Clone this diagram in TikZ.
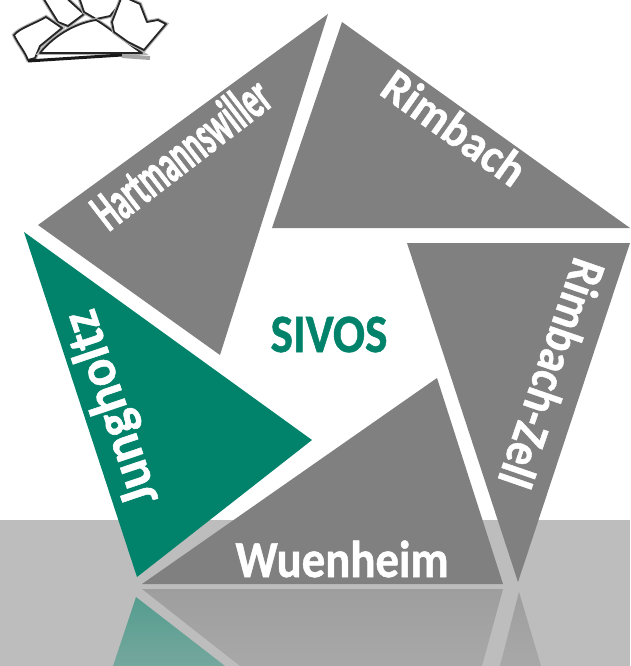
\documentclass[tikz,border=0pt]{standalone}
\usepackage{fontspec}
\usepackage{graphicx}
\setmainfont{Carlito}
\newfontfamily\heavyface[FakeBold=2]{Carlito Bold}
\newfontfamily\medface[FakeBold=1]{Carlito Bold}
\definecolor{petal}{HTML}{808080}
\definecolor{teal}{HTML}{00836A}
\definecolor{floor}{HTML}{BDBDBD}
\newcommand{\narrowed}[2]{\scalebox{#1}[1]{#2}}
\tikzset{
  petal/.style={fill=petal,draw=none},
  lbl/.style={text=white,font=\fontsize{#1}{#1}\selectfont\bfseries,inner sep=0pt,anchor=base},
  ink/.style={fill=white,line join=round,line cap=round,draw=black!85,line width=1.8pt,
    preaction={draw=black!30,line width=4pt}}
}
\begin{document}
\begin{tikzpicture}[x=1pt,y=-1pt]
\useasboundingbox (0,0) rectangle (630,666);
\fill[white] (0,0) rectangle (630,666);
\fill[floor] (0,520) rectangle (630,666);
% plane icon
\path[ink] (42,-4) -- (62,-6) -- (84,14) -- (68,26) -- (58,22) -- cycle;
\path[ink] (78,-6) -- (128,-6) -- (110,16) -- (96,19) -- (84,12) -- cycle;
\path[ink] (14,35) .. controls (20,28) and (34,24) .. (46,17) -- (62,28) -- (40,46) -- (35,58) -- (28,60) .. controls (24,50) and (18,44) .. (14,35) -- cycle;
\path[ink] (40,53) .. controls (52,38) and (72,24) .. (96,20) .. controls (110,28) and (125,42) .. (142,53) -- cycle;
\path[ink] (112,22) -- (122,-4) -- (140,4) -- (147,22) -- (158,20) -- (166,24) -- (144,50) -- (128,42) -- (114,32) -- cycle;
\draw[black!90,line width=3pt] (28,61) -- (122,55);
\draw[black!35,line width=4pt] (122,56) -- (150,58);
% reflections
\shade[top color=gray!76!white,bottom color=gray!68!white] (142,589) -- (503,589) -- (482,666) -- (240,666) -- cycle;
\shade[top color=gray!76!white,bottom color=gray!68!white] (519,592) -- (500,666) -- (541,666) -- cycle;
\shade[top color=teal!55!floor,bottom color=teal!38!floor] (136,597) -- (113,666) -- (225,666) -- cycle;
% petals
\path[petal] (328,14) -- (38,225) -- (220,355) -- cycle;
\path[petal] (342,22) -- (272,228) -- (630,228) -- cycle;
\path[petal] (630,243) -- (407,243) -- (518,582) -- cycle;
\path[petal] (437,378) -- (142,584) -- (503,584) -- cycle;
\path[fill=teal] (24,232) -- (312,440) -- (137,577) -- cycle;
% labels
\node[lbl=55,rotate=37.6] (h) at (192,168) {\narrowed{0.55}{\heavyface Hartmannswiller}};
\node[lbl=48,rotate=-35.3] (r) at (445,141) {\narrowed{0.95}{\medface Rimbach}};
\node[lbl=50,rotate=-109] (z) at (536,368) {\narrowed{0.89}{\medface Rimbach-Zell}};
\node[lbl=52] (w) at (342,577) {\narrowed{0.9}{\medface Wuenheim}};
\node[lbl=54,rotate=108.6] (j) at (126,403) {\narrowed{0.95}{\medface Jungholtz}};
\node[lbl=54,text=teal] (s) at (329,352) {\narrowed{0.88}{\medface SIVOS}};
\end{tikzpicture}
\end{document}
